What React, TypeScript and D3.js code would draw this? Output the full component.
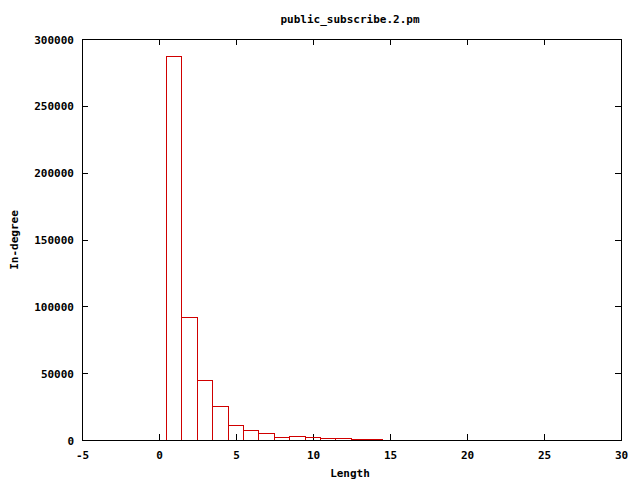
import React from 'react';
import * as d3 from 'd3';

// histogram of path length vs in-degree count
const lengths = [1, 2, 3, 4, 5, 6, 7, 8, 9, 10, 11, 12, 13, 14];
const counts = [287000, 92000, 44800, 25300, 11300, 7600, 5400, 2300, 3000, 2200, 1400, 1300, 600, 500];
const xTicks = [-5, 0, 5, 10, 15, 20, 25, 30];
const yTicks = [0, 50000, 100000, 150000, 200000, 250000, 300000];

const W = 640;
const H = 480;
const margin = { top: 39, right: 19, bottom: 40, left: 82 };
const font = '"DejaVu Sans Mono", "Liberation Mono", monospace';

const App = () => {
  const iw = W - margin.left - margin.right;
  const ih = H - margin.top - margin.bottom;

  const x = d3.scaleLinear().domain([-5, 30]).range([0.5, iw + 0.5]);
  const y = d3.scaleLinear().domain([0, 300000]).range([ih + 0.5, 0.5]);
  const tick = 6;
  const r = (v: number) => Math.round(v - 0.5) + 0.5;

  return (
    <svg width={W} height={H} style={{ position: 'absolute', left: 0, top: 0, background: '#fff' }} shapeRendering="crispEdges">
      <text x={350} y={23} textAnchor="middle" fontFamily={font} fontSize={11} fontWeight="bold">
        public_subscribe.2.pm
      </text>
      <g transform={`translate(${margin.left},${margin.top})`}>
        {xTicks.map(t => (
          <g key={t}>
            <line x1={r(x(t))} x2={r(x(t))} y1={ih} y2={ih - tick} stroke="#000" />
            <line x1={r(x(t))} x2={r(x(t))} y1={0} y2={tick} stroke="#000" />
            <text x={x(t)} y={ih + 19} textAnchor="middle" fontFamily={font} fontSize={11} fontWeight="bold">
              {t}
            </text>
          </g>
        ))}
        {yTicks.map(t => (
          <g key={t}>
            <line x1={0} x2={tick} y1={r(y(t))} y2={r(y(t))} stroke="#000" />
            <line x1={iw} x2={iw - tick} y1={r(y(t))} y2={r(y(t))} stroke="#000" />
            <text x={-8} y={y(t) + 4} textAnchor="end" fontFamily={font} fontSize={11} fontWeight="bold">
              {t}
            </text>
          </g>
        ))}
        {lengths.map((len, i) => {
          const x0 = r(x(len - 0.55));
          const x1 = r(x(len + 0.45));
          const y0 = r(y(counts[i]));
          return (
            <rect
              key={len}
              x={x0}
              y={y0}
              width={x1 - x0}
              height={r(y(0)) - y0}
              fill="none"
              stroke="#d00000"
              strokeWidth={1}
            />
          );
        })}
        <rect x={0.5} y={0.5} width={iw} height={ih} fill="none" stroke="#000" strokeWidth={1} />
      </g>
      <text x={350} y={477} textAnchor="middle" fontFamily={font} fontSize={11} fontWeight="bold">
        Length
      </text>
      <text
        transform={`translate(18,240) rotate(-90)`}
        textAnchor="middle"
        fontFamily={font}
        fontSize={11}
        fontWeight="bold"
      >
        In-degree
      </text>
    </svg>
  );
};

export default App;
